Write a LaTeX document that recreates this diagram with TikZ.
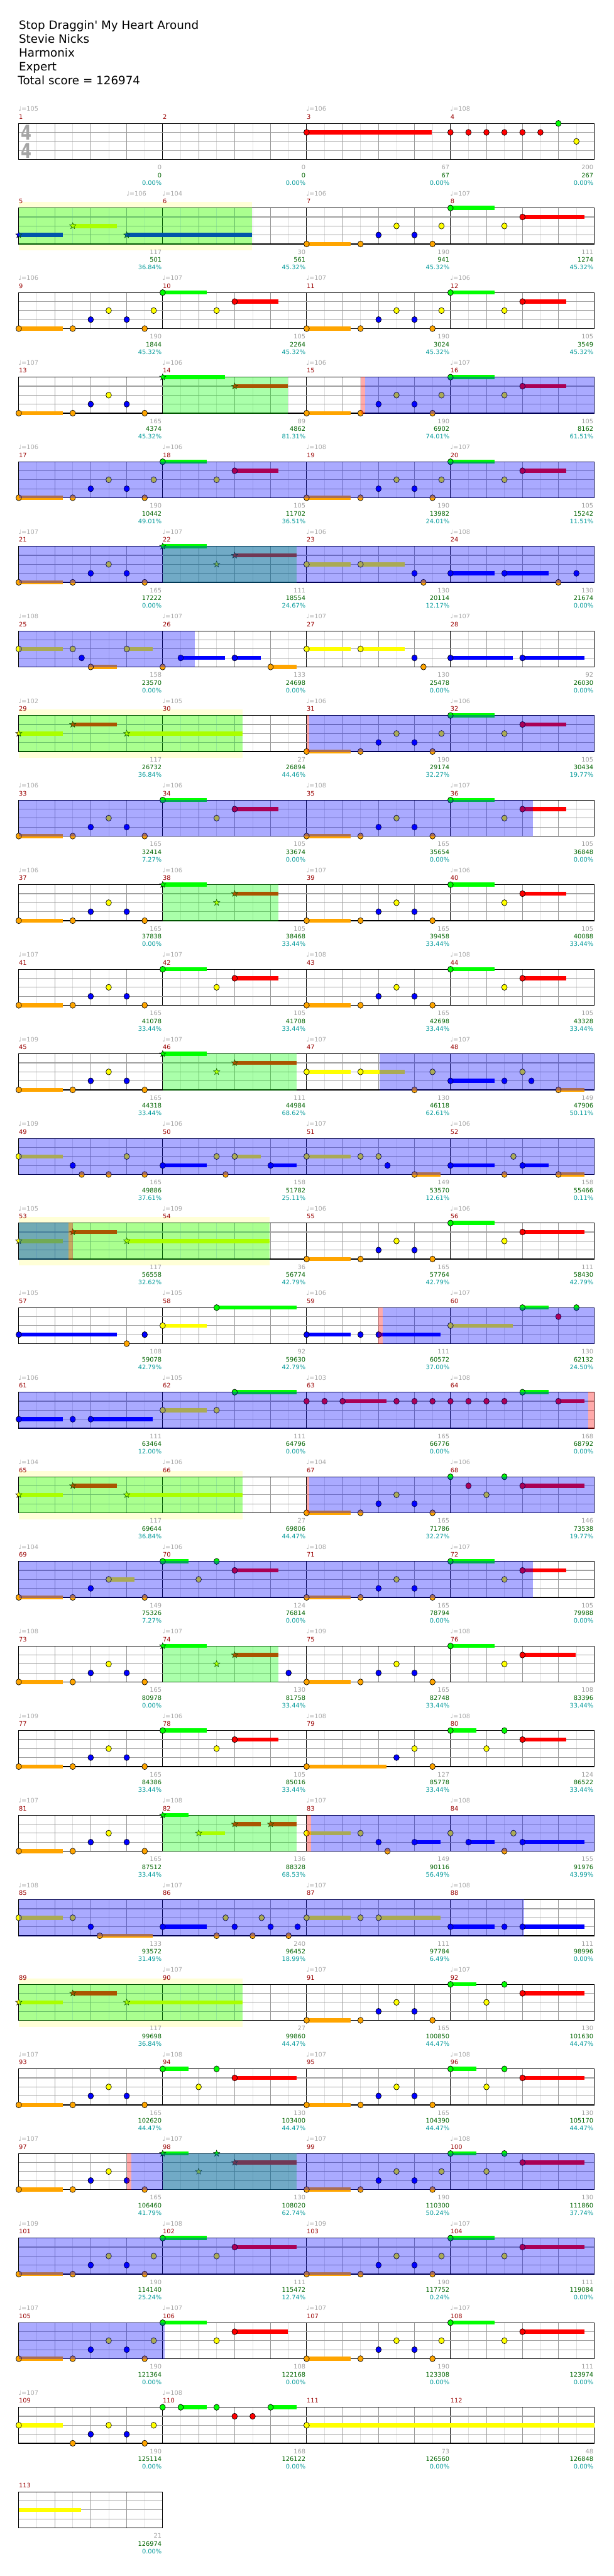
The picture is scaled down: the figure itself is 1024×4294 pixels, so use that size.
\documentclass[tikz,border=0pt]{standalone}
\usepackage{fontspec}
\setmainfont{DejaVu Sans}
\usetikzlibrary{shapes.geometric}
\definecolor{cg}{RGB}{0,255,0}
\definecolor{cr}{RGB}{255,0,0}
\definecolor{cy}{RGB}{255,255,0}
\definecolor{cb}{RGB}{0,0,255}
\definecolor{co}{RGB}{255,165,0}
\definecolor{mnum}{RGB}{153,0,0}
\definecolor{sgray}{RGB}{160,160,160}
\definecolor{tgray}{RGB}{170,170,170}
\definecolor{sgreen}{RGB}{0,100,0}
\definecolor{scyan}{RGB}{0,153,153}
\definecolor{paley}{RGB}{255,255,215}
\definecolor{gridlt}{RGB}{222,222,222}
\definecolor{gridmd}{RGB}{150,150,150}
\definecolor{lanegr}{RGB}{160,160,160}
\definecolor{tsig}{RGB}{165,165,165}
\newcommand\fs{\fontsize{10.3}{12}\selectfont}
\def\laneg{0}\def\laner{1}\def\laney{2}\def\laneb{3}\def\laneo{4}
\newcommand\RY{0}
\newcommand\setrow[1]{\pgfmathsetmacro\RY{205.7+141*#1}}
\newcommand\tx[1]{31.3+15.003*(#1)}
\newcommand\noteh[3]{%
  \pgfmathsetmacro\ly{\RY+15*\csname lane#2\endcsname}%
  \ifdim#3pt>0pt\relax \fill[c#2] ({\tx{#1}},\ly-3.4) rectangle ({\tx{#3-0.1}},\ly+3.4);\fi
  \filldraw[fill=c#2,draw=black,line width=0.7pt] ({\tx{#1}},\ly) ellipse [x radius=4.6,y radius=5];}
\newcommand\starh[3]{%
  \pgfmathsetmacro\ly{\RY+15*\csname lane#2\endcsname}%
  \ifdim#3pt>0pt\relax \fill[c#2] ({\tx{#1}},\ly-3.4) rectangle ({\tx{#3-0.1}},\ly+3.4);\fi
  \node[star,star points=5,star point ratio=2.4,minimum size=11pt,inner sep=0pt,fill=c#2,draw=black,line width=0.5pt] at ({\tx{#1}},\ly) {};}
\newcommand\notes[1]{\foreach \pa/\pb/\pc in {#1}{\edef\tmp{\noexpand\noteh{\pa}{\pb}{\pc}}\tmp}}
\newcommand\stars[1]{\foreach \pa/\pb/\pc in {#1}{\edef\tmp{\noexpand\starh{\pa}{\pb}{\pc}}\tmp}}
\newcommand\ovl[3]{\fill[#1,fill opacity=0.333] ({\tx{#2}},\RY-0.7) rectangle ({\tx{#3}},\RY+60.7);}
\newcommand\bgy[2]{\fill[paley] ({\tx{#1}},\RY-10) rectangle ({\tx{#2}},\RY+71);}
\newcommand\staffgrid[1]{%
  \pgfmathtruncatemacro\gridE{8*#1}\pgfmathtruncatemacro\gridB{4*#1}%
  \foreach \k in {1,...,\gridE}{\draw[gridlt,line width=0.8pt] ({\tx{2*\k}},\RY) -- ({\tx{2*\k}},\RY+60);}
  \foreach \k in {1,...,\gridB}{\draw[gridmd,line width=0.8pt] ({\tx{4*\k}},\RY) -- ({\tx{4*\k}},\RY+60);}
  \foreach \k in {1,...,#1}{\draw[black,line width=0.8pt] ({\tx{16*\k}},\RY) -- ({\tx{16*\k}},\RY+60);}
  \foreach \j in {15,30,45}{\draw[lanegr,line width=1.3pt] ({\tx{0}},\RY+\j) -- ({\tx{16*#1}},\RY+\j);}
  \draw[black,line width=1.3pt] ({\tx{0}},\RY) rectangle ({\tx{16*#1}},\RY+60);}
\newcommand\meas[5]{%
  \node[anchor=base west,inner sep=0pt,text=mnum,font=\fs] at ({\tx{16*#1}},\RY-7.5) {#2};
  \node[anchor=base east,inner sep=0pt,text=sgray,font=\fs] at ({\tx{16*#1+16}-1.5},\RY+77) {#3};
  \node[anchor=base east,inner sep=0pt,text=sgreen,font=\fs] at ({\tx{16*#1+16}-1.5},\RY+90) {#4};
  \node[anchor=base east,inner sep=0pt,text=scyan,font=\fs] at ({\tx{16*#1+16}-1.5},\RY+103) {#5\%};}
\newcommand\tmark[2]{\node[anchor=base west,inner sep=0pt,text=tgray,font=\fs] at ({\tx{#1}-0.5},\RY-20.5) {♩=#2};}
\newcommand\tmarks[4]{\tmark{0}{#1}\tmark{16}{#2}\tmark{32}{#3}\tmark{48}{#4}}
\begin{document}
\begin{tikzpicture}[x=1pt,y=-1pt]
\fill[white] (0,0) rectangle (1024,4294);
\useasboundingbox (0,0) rectangle (1024,4294);
% header
\node[anchor=base west,inner sep=0pt,font=\fontsize{19.2}{22}\selectfont] (h1) at (31.3,48.7) {Stop Draggin\textquotesingle{} My Heart Around};
\node[anchor=base west,inner sep=0pt,font=\fontsize{19.2}{22}\selectfont] (h2) at (31.3,71.7) {Stevie Nicks};
\node[anchor=base west,inner sep=0pt,font=\fontsize{19.2}{22}\selectfont] (h3) at (31.3,95) {Harmonix};
\node[anchor=base west,inner sep=0pt,font=\fontsize{19.2}{22}\selectfont] (h4) at (31.3,117.7) {Expert};
\node[anchor=base west,inner sep=0pt,font=\fontsize{19.2}{22}\selectfont] (h5) at (29.6,141) {Total score = 126974};
% row 0
\setrow{0}
\staffgrid{4}
\node[text=tsig,font=\fontsize{34}{34}\bfseries\selectfont,xscale=0.75] (ts1) at (44,221) {4};
\node[text=tsig,font=\fontsize{34}{34}\bfseries\selectfont,xscale=0.75] (ts2) at (44,251) {4};
\notes{32/r/46,48/r/0,50/r/0,52/r/0,54/r/0,56/r/0,58/r/0,60/g/0,62/y/0}
\meas{0}{1}{0}{0}{0.00}\meas{1}{2}{0}{0}{0.00}\meas{2}{3}{67}{67}{0.00}\meas{3}{4}{200}{267}{0.00}
\tmark{0}{105}\tmark{32}{106}\tmark{48}{108}
% row 1
\setrow{1}
\bgy{0}{25.9}
\staffgrid{4}
\stars{0/b/5,6/y/11,12/b/26}
\notes{32/o/37,38/o/0,40/b/0,42/y/0,44/b/0,46/o/0,47/y/0,48/g/53,54/y/0,56/r/63}
\ovl{cg}{0}{25.9}
\meas{0}{5}{117}{501}{36.84}\meas{1}{6}{30}{561}{45.32}\meas{2}{7}{190}{941}{45.32}\meas{3}{8}{111}{1274}{45.32}
\tmark{12}{106}\tmark{16}{104}\tmark{32}{106}\tmark{48}{107}
% row 2
\setrow{2}
\staffgrid{4}
\notes{0/o/5,6/o/0,8/b/0,10/y/0,12/b/0,14/o/0,15/y/0,16/g/21,22/y/0,24/r/29,32/o/37,38/o/0,40/b/0,42/y/0,44/b/0,46/o/0,47/y/0,48/g/53,54/y/0,56/r/61}
\meas{0}{9}{190}{1844}{45.32}\meas{1}{10}{105}{2264}{45.32}\meas{2}{11}{190}{3024}{45.32}\meas{3}{12}{105}{3549}{45.32}
\tmarks{106}{107}{107}{106}
% row 3
\setrow{3}
\staffgrid{4}
\notes{0/o/5,6/o/0,8/b/0,10/y/0,12/b/0,14/o/0,32/o/37,38/o/0,40/b/0,42/y/0,44/b/0,46/o/0,47/y/0,48/g/53,54/y/0,56/r/61}
\stars{16/g/23,24/r/30}
\ovl{cg}{16}{29.9}\ovl{cr}{38}{38.5}\ovl{cb}{38.5}{64}
\meas{0}{13}{165}{4374}{45.32}\meas{1}{14}{89}{4862}{81.31}\meas{2}{15}{190}{6902}{74.01}\meas{3}{16}{105}{8162}{61.51}
\tmarks{107}{106}{106}{107}
% row 4
\setrow{4}
\staffgrid{4}
\notes{0/o/5,6/o/0,8/b/0,10/y/0,12/b/0,14/o/0,15/y/0,16/g/21,22/y/0,24/r/29,32/o/37,38/o/0,40/b/0,42/y/0,44/b/0,46/o/0,47/y/0,48/g/53,54/y/0,56/r/61}
\ovl{cb}{0}{64}
\meas{0}{17}{190}{10442}{49.01}\meas{1}{18}{105}{11702}{36.51}\meas{2}{19}{190}{13982}{24.01}\meas{3}{20}{105}{15242}{11.51}
\tmarks{106}{106}{108}{107}
% row 5
\setrow{5}
\staffgrid{4}
\notes{0/o/5,6/o/0,8/b/0,10/y/0,12/b/0,14/o/0,32/y/37,38/y/43,44/b/0,45/o/0,48/b/53,54/b/59,60/o/0,62/b/0}
\stars{16/g/21,22/y/0,24/r/31}
\ovl{cg}{16}{30.9}\ovl{cb}{0}{64}
\meas{0}{21}{165}{17222}{0.00}\meas{1}{22}{111}{18554}{24.67}\meas{2}{23}{130}{20114}{12.17}\meas{3}{24}{130}{21674}{0.00}
\tmarks{107}{107}{106}{108}
% row 6
\setrow{6}
\staffgrid{4}
\notes{0/y/5,6/y/0,7/b/0,8/o/11,12/y/15,16/o/0,18/b/23,24/b/27,28/o/31,32/y/37,38/y/43,44/b/0,45/o/0,48/b/55,56/b/63}
\ovl{cb}{0}{19.6}
\meas{0}{25}{158}{23570}{0.00}\meas{1}{26}{133}{24698}{0.00}\meas{2}{27}{130}{25478}{0.00}\meas{3}{28}{92}{26030}{0.00}
\tmarks{108}{107}{107}{107}
% row 7
\setrow{7}
\bgy{0}{24.9}
\staffgrid{4}
\stars{0/y/5,6/r/11,12/y/25}
\notes{32/o/37,38/o/0,40/b/0,42/y/0,44/b/0,46/o/0,47/y/0,48/g/53,54/y/0,56/r/61}
\ovl{cg}{0}{24.9}\ovl{cr}{32}{32.3}\ovl{cb}{32.3}{64}
\meas{0}{29}{117}{26732}{36.84}\meas{1}{30}{27}{26894}{44.46}\meas{2}{31}{190}{29174}{32.27}\meas{3}{32}{105}{30434}{19.77}
\tmarks{102}{105}{106}{106}
% row 8
\setrow{8}
\staffgrid{4}
\notes{0/o/5,6/o/0,8/b/0,10/y/0,12/b/0,14/o/0,16/g/21,22/y/0,24/r/29,32/o/37,38/o/0,40/b/0,42/y/0,44/b/0,46/o/0,48/g/53,54/y/0,56/r/61}
\ovl{cb}{0}{57.2}
\meas{0}{33}{165}{32414}{7.27}\meas{1}{34}{105}{33674}{0.00}\meas{2}{35}{165}{35654}{0.00}\meas{3}{36}{105}{36848}{0.00}
\tmarks{106}{106}{108}{107}
% row 9
\setrow{9}
\staffgrid{4}
\notes{0/o/5,6/o/0,8/b/0,10/y/0,12/b/0,14/o/0,32/o/37,38/o/0,40/b/0,42/y/0,44/b/0,46/o/0,48/g/53,54/y/0,56/r/61}
\stars{16/g/21,22/y/0,24/r/29}
\ovl{cg}{16}{28.9}
\meas{0}{37}{165}{37838}{0.00}\meas{1}{38}{105}{38468}{33.44}\meas{2}{39}{165}{39458}{33.44}\meas{3}{40}{105}{40088}{33.44}
\tmarks{106}{106}{107}{106}
% row 10
\setrow{10}
\staffgrid{4}
\notes{0/o/5,6/o/0,8/b/0,10/y/0,12/b/0,14/o/0,16/g/21,22/y/0,24/r/29,32/o/37,38/o/0,40/b/0,42/y/0,44/b/0,46/o/0,48/g/53,54/y/0,56/r/61}
\meas{0}{41}{165}{41078}{33.44}\meas{1}{42}{105}{41708}{33.44}\meas{2}{43}{165}{42698}{33.44}\meas{3}{44}{105}{43328}{33.44}
\tmarks{107}{107}{108}{108}
% row 11
\setrow{11}
\staffgrid{4}
\notes{0/o/5,6/o/0,8/b/0,10/y/0,12/b/0,14/o/0,32/y/37,38/y/43,44/o/0,46/y/0,48/b/53,54/b/0,56/y/0,57/b/0,60/o/63}
\stars{16/g/21,22/y/0,24/r/31}
\ovl{cg}{16}{30.9}\ovl{cb}{40.1}{64}
\meas{0}{45}{165}{44318}{33.44}\meas{1}{46}{111}{44984}{68.62}\meas{2}{47}{130}{46118}{62.61}\meas{3}{48}{149}{47906}{50.11}
\tmarks{109}{107}{107}{107}
% row 12
\setrow{12}
\staffgrid{4}
\notes{0/y/5,6/b/0,7/o/0,10/o/0,12/y/0,14/o/0,16/b/21,22/y/0,23/o/0,24/y/27,28/b/31,32/y/37,38/y/0,40/y/0,41/b/0,44/o/47,48/b/53,54/o/0,55/y/0,56/b/59,60/o/63}
\ovl{cb}{0}{64}
\meas{0}{49}{165}{49886}{37.61}\meas{1}{50}{158}{51782}{25.11}\meas{2}{51}{149}{53570}{12.61}\meas{3}{52}{158}{55466}{0.11}
\tmarks{109}{106}{107}{106}
% row 13
\setrow{13}
\bgy{0}{27.9}
\staffgrid{4}
\stars{0/y/5,6/r/11,12/y/28}
\notes{32/o/37,38/o/0,40/b/0,42/y/0,44/b/0,46/o/0,48/g/53,54/y/0,56/r/63}
\ovl{cg}{0}{27.9}\ovl{cb}{0}{5.5}\ovl{cr}{5.5}{6}
\meas{0}{53}{117}{56558}{32.62}\meas{1}{54}{36}{56774}{42.79}\meas{2}{55}{165}{57764}{42.79}\meas{3}{56}{111}{58430}{42.79}
\tmarks{105}{109}{106}{106}
% row 14
\setrow{14}
\staffgrid{4}
\notes{0/b/11,12/o/0,14/b/0,16/y/21,22/g/31,32/b/37,38/b/0,40/b/47,48/y/55,56/g/59,60/r/0,62/g/0}
\ovl{cr}{40}{40.45}\ovl{cb}{40.45}{64}
\meas{0}{57}{108}{59078}{42.79}\meas{1}{58}{92}{59630}{42.79}\meas{2}{59}{111}{60572}{37.00}\meas{3}{60}{130}{62132}{24.50}
\tmarks{105}{105}{106}{107}
% row 15
\setrow{15}
\staffgrid{4}
\notes{0/b/5,6/b/0,8/b/15,16/y/21,22/y/0,24/g/31,32/r/0,34/r/0,36/r/41,42/r/0,44/r/0,46/r/0,48/r/0,50/r/0,52/r/0,54/r/0,56/g/59,60/r/63}
\ovl{cb}{0}{63.3}\ovl{cr}{63.3}{64}
\meas{0}{61}{111}{63464}{12.00}\meas{1}{62}{111}{64796}{0.00}\meas{2}{63}{165}{66776}{0.00}\meas{3}{64}{168}{68792}{0.00}
\tmarks{106}{105}{103}{108}
% row 16
\setrow{16}
\bgy{0}{24.9}
\staffgrid{4}
\stars{0/y/5,6/r/11,12/y/25}
\notes{32/o/37,38/o/0,40/b/0,42/y/0,44/b/0,46/o/0,48/g/0,50/r/0,52/y/0,54/g/0,56/r/63}
\ovl{cg}{0}{24.9}\ovl{cr}{32}{32.3}\ovl{cb}{32.3}{64}
\meas{0}{65}{117}{69644}{36.84}\meas{1}{66}{27}{69806}{44.47}\meas{2}{67}{165}{71786}{32.27}\meas{3}{68}{146}{73538}{19.77}
\tmarks{104}{106}{104}{106}
% row 17
\setrow{17}
\staffgrid{4}
\notes{0/o/5,6/o/0,8/b/0,10/y/13,14/o/0,16/g/19,20/y/0,22/g/0,24/r/29,32/o/37,38/o/0,40/b/0,42/y/0,44/b/0,46/o/0,48/g/53,54/y/0,56/r/61}
\ovl{cb}{0}{57.2}
\meas{0}{69}{149}{75326}{7.27}\meas{1}{70}{124}{76814}{0.00}\meas{2}{71}{165}{78794}{0.00}\meas{3}{72}{105}{79988}{0.00}
\tmarks{104}{106}{108}{107}
% row 18
\setrow{18}
\staffgrid{4}
\notes{0/o/5,6/o/0,8/b/0,10/y/0,12/b/0,14/o/0,30/b/0,32/o/37,38/o/0,40/b/0,42/y/0,44/b/0,46/o/0,48/g/53,54/y/0,56/r/62}
\stars{16/g/21,22/y/0,24/r/29}
\ovl{cg}{16}{28.9}
\meas{0}{73}{165}{80978}{0.00}\meas{1}{74}{130}{81758}{33.44}\meas{2}{75}{165}{82748}{33.44}\meas{3}{76}{108}{83396}{33.44}
\tmarks{108}{107}{109}{108}
% row 19
\setrow{19}
\staffgrid{4}
\notes{0/o/5,6/o/0,8/b/0,10/y/0,12/b/0,14/o/0,16/g/21,22/y/0,24/r/29,32/o/41,42/b/0,44/y/0,46/o/0,48/g/51,52/y/0,54/g/0,56/r/61}
\meas{0}{77}{165}{84386}{33.44}\meas{1}{78}{105}{85016}{33.44}\meas{2}{79}{127}{85778}{33.44}\meas{3}{80}{124}{86522}{33.44}
\tmarks{109}{106}{108}{108}
% row 20
\setrow{20}
\staffgrid{4}
\notes{0/o/5,6/o/0,8/b/0,10/y/0,12/b/0,14/o/0,32/y/37,38/y/0,40/b/0,41/o/0,44/b/47,48/y/0,50/b/53,54/o/0,55/y/0,56/b/63}
\stars{16/g/19,20/y/23,24/r/27,28/r/31}
\ovl{cg}{16}{30.9}\ovl{cr}{32}{32.5}\ovl{cb}{32.5}{64}
\meas{0}{81}{165}{87512}{33.44}\meas{1}{82}{136}{88328}{68.53}\meas{2}{83}{149}{90116}{56.49}\meas{3}{84}{155}{91976}{43.99}
\tmarks{107}{108}{107}{108}
% row 21
\setrow{21}
\staffgrid{4}
\notes{0/y/5,6/y/0,8/b/0,9/o/15,16/b/21,22/o/0,23/y/0,24/b/0,26/o/0,27/y/0,28/b/0,30/o/0,31/b/0,32/y/37,38/y/0,40/y/47,48/b/53,54/b/0,56/b/63}
\ovl{cb}{0}{56.2}
\meas{0}{85}{133}{93572}{31.49}\meas{1}{86}{240}{96452}{18.99}\meas{2}{87}{111}{97784}{6.49}\meas{3}{88}{111}{98996}{0.00}
\tmarks{108}{107}{107}{108}
% row 22
\setrow{22}
\bgy{0}{24.9}
\staffgrid{4}
\stars{0/y/5,6/r/11,12/y/25}
\notes{32/o/37,38/o/0,40/b/0,42/y/0,44/b/0,46/o/0,48/g/51,52/y/0,54/g/0,56/r/63}
\ovl{cg}{0}{24.9}
\meas{0}{89}{117}{99698}{36.84}\meas{1}{90}{27}{99860}{44.47}\meas{2}{91}{165}{100850}{44.47}\meas{3}{92}{130}{101630}{44.47}
\tmark{16}{107}\tmark{32}{107}\tmark{48}{107}
% row 23
\setrow{23}
\staffgrid{4}
\notes{0/o/5,6/o/0,8/b/0,10/y/0,12/b/0,14/o/0,16/g/19,20/y/0,22/g/0,24/r/31,32/o/37,38/o/0,40/b/0,42/y/0,44/b/0,46/o/0,48/g/51,52/y/0,54/g/0,56/r/63}
\meas{0}{93}{165}{102620}{44.47}\meas{1}{94}{130}{103400}{44.47}\meas{2}{95}{165}{104390}{44.47}\meas{3}{96}{130}{105170}{44.47}
\tmarks{107}{108}{107}{108}
% row 24
\setrow{24}
\staffgrid{4}
\notes{0/o/5,6/o/0,8/b/0,10/y/0,12/b/0,14/o/0,32/o/37,38/o/0,40/b/0,42/y/0,44/b/0,46/o/0,47/y/0,48/g/51,52/y/0,54/g/0,56/r/63}
\stars{16/g/19,20/y/0,22/g/0,24/r/31}
\ovl{cg}{16}{30.9}\ovl{cb}{12.5}{64}\ovl{cr}{12}{12.5}
\meas{0}{97}{165}{106460}{41.79}\meas{1}{98}{130}{108020}{62.74}\meas{2}{99}{190}{110300}{50.24}\meas{3}{100}{130}{111860}{37.74}
\tmarks{107}{107}{107}{108}
% row 25
\setrow{25}
\staffgrid{4}
\notes{0/o/5,6/o/0,8/b/0,10/y/0,12/b/0,14/o/0,15/y/0,16/g/21,22/y/0,24/r/31,32/o/37,38/o/0,40/b/0,42/y/0,44/b/0,46/o/0,47/y/0,48/g/53,54/y/0,56/r/63}
\ovl{cb}{0}{64}
\meas{0}{101}{190}{114140}{25.24}\meas{1}{102}{111}{115472}{12.74}\meas{2}{103}{190}{117752}{0.24}\meas{3}{104}{111}{119084}{0.00}
\tmarks{109}{108}{109}{107}
% row 26
\setrow{26}
\staffgrid{4}
\notes{0/o/5,6/o/0,8/b/0,10/y/0,12/b/0,14/o/0,15/y/0,16/g/21,22/y/0,24/r/30,32/o/37,38/o/0,40/b/0,42/y/0,44/b/0,46/o/0,47/y/0,48/g/53,54/y/0,56/r/63}
\ovl{cb}{0}{16.2}
\meas{0}{105}{190}{121364}{0.00}\meas{1}{106}{108}{122168}{0.00}\meas{2}{107}{190}{123308}{0.00}\meas{3}{108}{111}{123974}{0.00}
\tmarks{107}{107}{107}{107}
% row 27
\setrow{27}
\staffgrid{4}
\notes{0/y/5,6/o/0,8/b/0,10/y/0,12/b/0,14/o/0,15/y/0,16/g/0,18/g/21,22/g/0,24/r/0,26/r/0,28/g/31,32/y/64.1}
\meas{0}{109}{190}{125114}{0.00}\meas{1}{110}{168}{126122}{0.00}\meas{2}{111}{73}{126560}{0.00}\meas{3}{112}{48}{126848}{0.00}
\tmark{0}{107}\tmark{16}{108}
% row 28
\setrow{28}
\staffgrid{1}
\fill[cy] ({\tx{0}},\RY+26.6) rectangle ({\tx{6.9}},\RY+33.4);
\meas{0}{113}{21}{126974}{0.00}
\end{tikzpicture}
\end{document}
